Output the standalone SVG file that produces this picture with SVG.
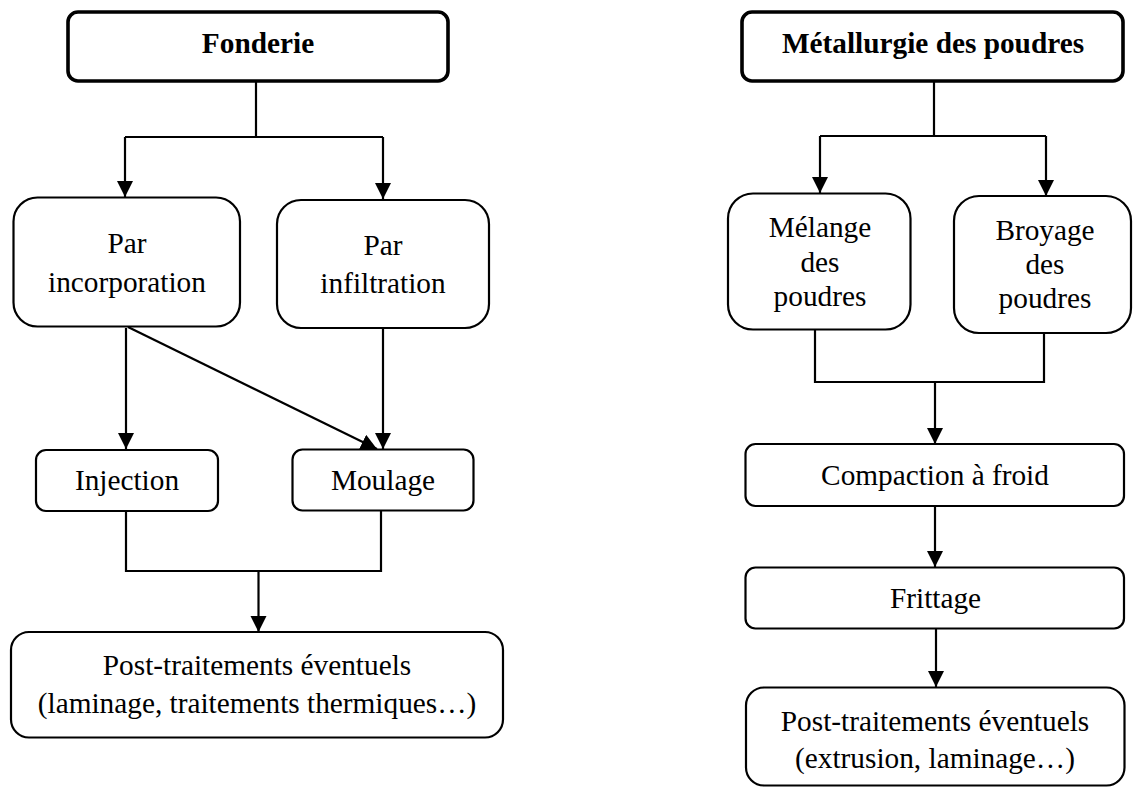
<svg xmlns="http://www.w3.org/2000/svg" width="1133" height="789" viewBox="0 0 1133 789">
  <style>
    .box { fill: #ffffff; stroke: #000000; stroke-width: 2.2; }
    .main { fill: #ffffff; stroke: #000000; stroke-width: 3.6; }
    text { font-family: 'Liberation Serif', 'Tinos', 'DejaVu Serif', serif; font-size: 29.3px; fill: #000000; text-anchor: middle; }
    .b { font-weight: bold; }
    .c { fill: none; stroke: #000000; stroke-width: 2.2; }
  </style>
  <defs>
    <marker id="arr" markerUnits="userSpaceOnUse" markerWidth="17" markerHeight="17" refX="16" refY="8" orient="auto" viewBox="0 0 17 17">
      <path d="M0,0 L16,8 L0,16 z" fill="#000000"/>
    </marker>
  </defs>
  <rect width="1133" height="789" fill="#ffffff"/>

  <g id="connectors">
    <path class="c" d="M256,81 V137 M125,137 H383"/>
    <path class="c" d="M125,137 V197" marker-end="url(#arr)"/>
    <path class="c" d="M383,137 V199" marker-end="url(#arr)"/>
    <path class="c" d="M126,328 V449" marker-end="url(#arr)"/>
    <path class="c" d="M128,327 L377,449" marker-end="url(#arr)"/>
    <path class="c" d="M383,329 V449" marker-end="url(#arr)"/>
    <path class="c" d="M126,511 V571 H381 V510"/>
    <path class="c" d="M258.5,571 V632" marker-end="url(#arr)"/>

    <path class="c" d="M934,81 V136 M820,136 H1046"/>
    <path class="c" d="M820,136 V193" marker-end="url(#arr)"/>
    <path class="c" d="M1046,136 V196" marker-end="url(#arr)"/>
    <path class="c" d="M815,329 V382 H1044 V333"/>
    <path class="c" d="M935,382 V444" marker-end="url(#arr)"/>
    <path class="c" d="M935,506 V567" marker-end="url(#arr)"/>
    <path class="c" d="M936,628.5 V687" marker-end="url(#arr)"/>
  </g>

  <g id="fonderie">
    <rect class="main" x="68" y="12" width="380" height="69" rx="10"/>
    <text class="b" x="258" y="53" font-family="Liberation Serif, serif">Fonderie</text>
  </g>
  <g id="incorporation">
    <rect class="box" x="13.5" y="197.5" width="226.5" height="129" rx="24"/>
    <text x="127" y="253">Par</text>
    <text x="127" y="292">incorporation</text>
  </g>
  <g id="infiltration">
    <rect class="box" x="277" y="200" width="212" height="128" rx="24"/>
    <text x="383" y="255">Par</text>
    <text x="383" y="293">infiltration</text>
  </g>
  <g id="injection">
    <rect class="box" x="36" y="450" width="182" height="61" rx="10"/>
    <text x="127" y="490">Injection</text>
  </g>
  <g id="moulage">
    <rect class="box" x="292.5" y="449.5" width="181" height="61" rx="10"/>
    <text x="383" y="490">Moulage</text>
  </g>
  <g id="post-fonderie">
    <rect class="box" x="11" y="632" width="492" height="105.5" rx="18"/>
    <text x="257" y="675">Post-traitements éventuels</text>
    <text x="257" y="713">(laminage, traitements thermiques…)</text>
  </g>

  <g id="metallurgie">
    <rect class="main" x="742" y="12" width="381" height="69" rx="10"/>
    <text class="b" x="933" y="53">Métallurgie des poudres</text>
  </g>
  <g id="melange">
    <rect class="box" x="728" y="193.5" width="182.5" height="136" rx="25"/>
    <text x="820" y="237">Mélange</text>
    <text x="820" y="271.5">des</text>
    <text x="820" y="305.5">poudres</text>
  </g>
  <g id="broyage">
    <rect class="box" x="954" y="196" width="177" height="137" rx="25"/>
    <text x="1045" y="240">Broyage</text>
    <text x="1045" y="273.5">des</text>
    <text x="1045" y="307.5">poudres</text>
  </g>
  <g id="compaction">
    <rect class="box" x="745.5" y="444" width="378.5" height="62" rx="10"/>
    <text x="935" y="485">Compaction à froid</text>
  </g>
  <g id="frittage">
    <rect class="box" x="745.5" y="567.5" width="378.5" height="61" rx="10"/>
    <text x="935.5" y="608">Frittage</text>
  </g>
  <g id="post-metallurgie">
    <rect class="box" x="746" y="687.5" width="378.5" height="98" rx="18"/>
    <text x="935" y="731">Post-traitements éventuels</text>
    <text x="935" y="768">(extrusion, laminage…)</text>
  </g>
</svg>
